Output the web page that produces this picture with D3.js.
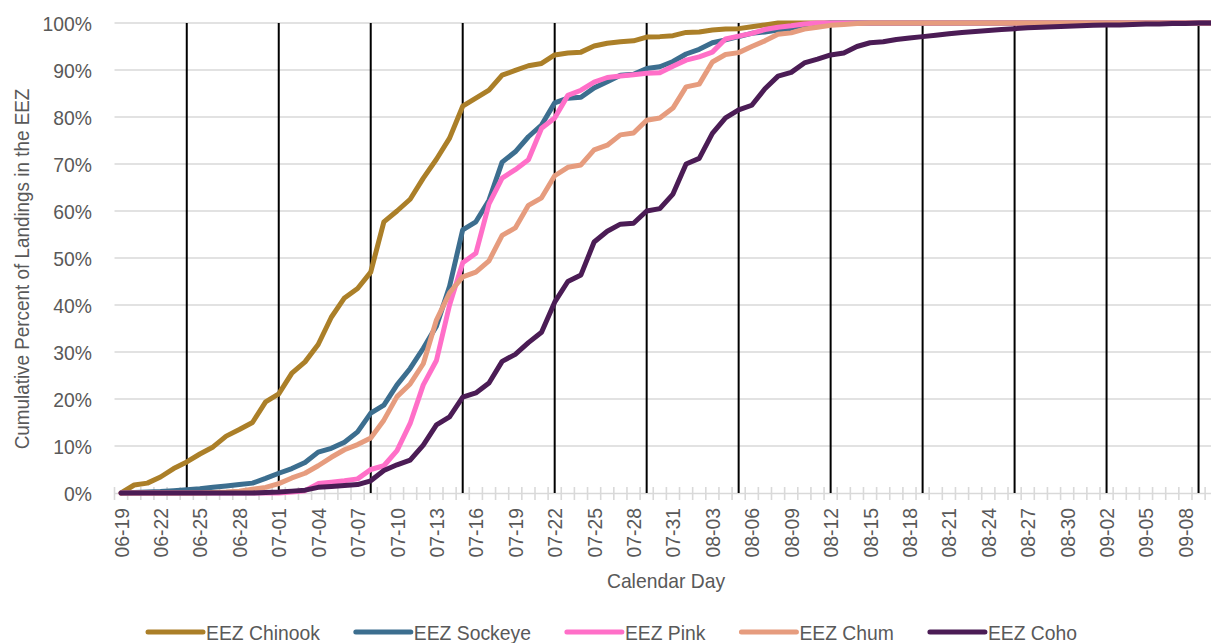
<!DOCTYPE html>
<html>
<head>
<meta charset="utf-8">
<script src="https://cdn.jsdelivr.net/npm/d3@7"></script>
<style>
  html, body { margin: 0; padding: 0; background: #fff; }
  svg { display: block; font-family: "Liberation Sans", Arial, sans-serif; }
</style>
</head>
<body>
<svg id="chart" width="1211" height="643"></svg>
<script>
// ---- Data ----
const categories = [
  "06-19","06-20","06-21","06-22","06-23","06-24","06-25","06-26","06-27","06-28","06-29","06-30",
  "07-01","07-02","07-03","07-04","07-05","07-06","07-07","07-08","07-09","07-10","07-11","07-12",
  "07-13","07-14","07-15","07-16","07-17","07-18","07-19","07-20","07-21","07-22","07-23","07-24",
  "07-25","07-26","07-27","07-28","07-29","07-30","07-31","08-01","08-02","08-03","08-04","08-05",
  "08-06","08-07","08-08","08-09","08-10","08-11","08-12","08-13","08-14","08-15","08-16","08-17",
  "08-18","08-19","08-20","08-21","08-22","08-23","08-24","08-25","08-26","08-27","08-28","08-29",
  "08-30","08-31","09-01","09-02","09-03","09-04","09-05","09-06","09-07","09-08","09-09","09-10"
];
const tickLabels = ["06-19","06-22","06-25","06-28","07-01","07-04","07-07","07-10","07-13","07-16",
  "07-19","07-22","07-25","07-28","07-31","08-03","08-06","08-09","08-12","08-15","08-18","08-21",
  "08-24","08-27","08-30","09-02","09-05","09-08"];
const weekMarkers = ["06-24","07-01","07-08","07-15","07-22","07-29","08-05","08-12","08-19","08-26","09-02","09-09"];
const yTicks = [0,10,20,30,40,50,60,70,80,90,100];

const chinook = [
  0,1.7,2.1,3.4,5.2,6.6,8.3,9.8,12.1,13.5,
  15.0,19.4,21.1,25.5,27.9,31.6,37.4,41.5,43.5,47.0,
  57.7,60.0,62.5,67.0,71.0,75.5,82.3,84.0,85.7,88.9,
  89.9,90.9,91.4,93.2,93.6,93.8,95.1,95.7,96.0,96.2,
  97.0,97.1,97.3,98.0,98.1,98.5,98.7,98.8,99.2,99.6,
  100,100,100,100,100,100,100,100,100,100,
  100,100,100,100,100,100,100,100,100,100,
  100,100,100,100,100,100,100,100,100,100,
  100,100,100,100
];
const sockeye = [
  0,0.1,0.2,0.3,0.5,0.7,0.9,1.2,1.5,1.8,
  2.1,3.1,4.2,5.2,6.5,8.7,9.5,10.8,13.0,17.0,
  18.7,23.0,26.5,30.8,35.5,44.0,56.0,57.7,62.3,70.4,
  72.6,75.8,78.3,83.0,84.0,84.2,86.2,87.5,88.9,89.1,
  90.3,90.7,91.8,93.4,94.4,95.8,96.4,97.1,97.8,98.1,
  98.5,98.9,99.6,99.8,100,100,100,100,100,100,
  100,100,100,100,100,100,100,100,100,100,
  100,100,100,100,100,100,100,100,100,100,
  100,100,100,100
];
const pink = [
  0,0,0,0,0,0,0,0,0,0,
  0,0,0,0.2,0.5,2.0,2.3,2.6,3.0,5.0,
  5.8,9.0,14.8,23.0,28.2,40.0,49.0,51.0,61.5,67.0,
  68.8,70.9,77.6,79.8,84.6,85.7,87.4,88.4,88.7,89.0,
  89.3,89.4,90.8,92.1,92.8,93.8,96.6,97.2,97.8,98.6,
  99.1,99.4,99.8,100,100,100,100,100,100,100,
  100,100,100,100,100,100,100,100,100,100,
  100,100,100,100,100,100,100,100,100,100,
  100,100,100,100
];
const chum = [
  0,0,0,0,0,0,0,0.1,0.2,0.4,
  0.8,1.2,2.0,3.2,4.2,5.8,7.6,9.2,10.3,11.7,
  15.5,20.5,23.2,27.5,36.8,42.6,46.0,47.0,49.4,54.8,
  56.4,61.2,62.8,67.5,69.3,69.8,73.0,74.0,76.2,76.6,
  79.3,79.8,81.9,86.4,87.0,91.7,93.3,93.7,95.0,96.2,
  97.6,97.9,98.7,99.1,99.5,99.7,99.9,100,100,100,
  100,100,100,100,100,100,100,100,100,100,
  100,100,100,100,100,100,100,100,100,100,
  100,100,100,100
];
const coho = [
  0,0,0,0,0,0,0,0,0,0,
  0,0.1,0.2,0.4,0.6,1.2,1.4,1.6,1.8,2.6,
  4.8,6.0,7.0,10.2,14.5,16.2,20.4,21.3,23.4,28.0,
  29.5,32.0,34.2,40.6,45.0,46.4,53.4,55.7,57.2,57.4,
  60.0,60.5,63.6,70.0,71.2,76.5,79.8,81.5,82.5,86.0,
  88.7,89.5,91.5,92.3,93.2,93.6,95.0,95.8,96.0,96.5,
  96.8,97.1,97.4,97.7,98.0,98.2,98.4,98.6,98.8,99.0,
  99.1,99.2,99.3,99.4,99.5,99.6,99.6,99.7,99.8,99.8,
  99.9,99.9,100,100
];
const seriesNames = ["EEZ Chinook","EEZ Sockeye","EEZ Pink","EEZ Chum","EEZ Coho"];
const seriesValues = [chinook, sockeye, pink, chum, coho];
const seriesColors = ["#AB7F28","#3C6E8F","#FF6FC8","#E69C7E","#4B1C55"];

// ---- Layout ----
const svg = d3.select("#chart");
const plotLeft = 114.5, step = 13.14;
const plotTop = 23, plotBottom = 493;
const textColor = "#595959";
const fontSize = 21;
const squeeze = 0.92;

function condense(sel) {
  sel.each(function () {
    const len = this.getComputedTextLength();
    d3.select(this).attr("textLength", len * squeeze).attr("lengthAdjust", "spacingAndGlyphs");
  });
}

const x = d3.scaleBand().domain(categories)
  .range([plotLeft, plotLeft + step * categories.length]).padding(0);
const xc = d => x(d) + x.bandwidth() / 2;
const y = d3.scaleLinear().domain([0, 100]).range([plotBottom, plotTop]);
const plotRight = plotLeft + step * categories.length;

// gridlines
svg.append("g").selectAll("line").data(yTicks.filter(t => t > 0)).join("line")
  .attr("x1", plotLeft).attr("x2", plotRight)
  .attr("y1", d => y(d)).attr("y2", d => y(d))
  .attr("stroke", "#d9d9d9").attr("stroke-width", 1.6);

// x axis line + ticks (between categories)
const xAxis = d3.axisBottom(x).tickSizeInner(0).tickSizeOuter(0).tickFormat("");
const gx = svg.append("g").attr("transform", `translate(0,${plotBottom})`).call(xAxis);
gx.select(".domain").attr("stroke", "#d9d9d9").attr("stroke-width", 1.6);
gx.selectAll(".tick").remove();
const boundaries = categories.map(c => x(c)).concat([plotRight]);
svg.append("g").selectAll("line").data(boundaries).join("line")
  .attr("x1", d => d).attr("x2", d => d)
  .attr("y1", plotBottom - 6).attr("y2", plotBottom + 7)
  .attr("stroke", "#d9d9d9").attr("stroke-width", 1.6);

// x tick labels
svg.append("g").selectAll("text").data(tickLabels).join("text")
  .attr("transform", d => `translate(${xc(d) + 7.5},${plotBottom + 15}) rotate(-90)`)
  .attr("text-anchor", "end")
  .attr("fill", textColor).attr("font-size", fontSize)
  .text(d => d)
  .call(condense);

// y tick labels
svg.append("g").selectAll("text").data(yTicks).join("text")
  .attr("x", 92).attr("y", d => y(d)).attr("dy", "0.36em")
  .attr("text-anchor", "end").attr("fill", textColor).attr("font-size", fontSize)
  .text(d => d + "%")
  .call(condense);

// week marker vertical lines
svg.append("g").selectAll("line").data(weekMarkers).join("line")
  .attr("x1", d => xc(d)).attr("x2", d => xc(d))
  .attr("y1", y(100)).attr("y2", y(0))
  .attr("stroke", "#000").attr("stroke-width", 2);

// series lines
const line = d3.line().x((d, i) => xc(categories[i])).y(d => y(d));
svg.append("g").selectAll("path").data(seriesValues).join("path")
  .attr("d", d => line(d))
  .attr("fill", "none")
  .attr("stroke", (d, i) => seriesColors[i])
  .attr("stroke-width", 5)
  .attr("stroke-linejoin", "round")
  .attr("stroke-linecap", "round");

// axis titles
svg.append("text").attr("x", 666).attr("y", 588)
  .attr("text-anchor", "middle").attr("fill", textColor).attr("font-size", fontSize)
  .text("Calendar Day").call(condense);
svg.append("text").attr("transform", "translate(29,269) rotate(-90)")
  .attr("text-anchor", "middle").attr("fill", textColor).attr("font-size", 20.5)
  .text("Cumulative Percent of Landings in the EEZ").call(condense);

// legend
const legend = svg.append("g");
let lx = 148;
const ly = 632;
seriesNames.forEach((name, i) => {
  legend.append("line").attr("x1", lx).attr("x2", lx + 55).attr("y1", ly).attr("y2", ly)
    .attr("stroke", seriesColors[i]).attr("stroke-width", 5).attr("stroke-linecap", "round");
  const t = legend.append("text").attr("x", lx + 58).attr("y", ly).attr("dy", "0.36em")
    .attr("fill", textColor).attr("font-size", fontSize).text(name);
  const w = t.node().getComputedTextLength();
  t.attr("textLength", w * squeeze).attr("lengthAdjust", "spacingAndGlyphs");
  lx += 58 + w * squeeze + 36;
});
</script>
</body>
</html>
